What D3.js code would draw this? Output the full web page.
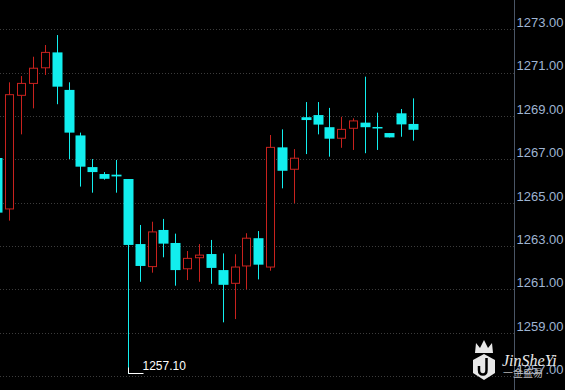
<!DOCTYPE html>
<html>
<head>
<meta charset="utf-8">
<script src="https://cdn.jsdelivr.net/npm/d3@7"></script>
<style>
  html, body { margin: 0; padding: 0; background: #000; }
  svg { display: block; }
</style>
</head>
<body>
<div id="chart"></div>
<script>
// OHLC per bar
var opens  = [1267.06,1264.71,1269.95,1270.50,1271.22,1271.93,1270.20,1268.10,1266.64,1266.32,1266.29,1266.09,
              1263.09,1262.05,1263.74,1263.14,1261.95,1262.46,1262.63,1261.89,1261.28,1262.08,1263.36,1262.03,
              1267.55,1266.54,1268.94,1269.04,1268.48,1267.97,1268.43,1268.69,1268.49,1268.21,1269.12,1268.63];
var highs  = [1267.30,1270.55,1270.84,1271.73,1272.27,1272.73,1270.55,1268.23,1267.01,1266.41,1266.97,1266.09,
              1263.97,1264.12,1264.25,1263.57,1262.77,1263.09,1263.28,1262.66,1262.62,1263.59,1263.69,1268.12,
              1268.38,1267.47,1269.64,1269.64,1269.37,1268.96,1268.89,1270.81,1269.15,1268.21,1269.32,1269.81];
var lows   = [1264.20,1264.17,1268.15,1269.35,1270.89,1269.54,1267.01,1265.74,1265.46,1266.06,1265.46,1257.10,
              1261.35,1261.77,1262.48,1261.17,1261.43,1261.35,1261.26,1259.48,1259.63,1261.00,1261.46,1261.86,
              1265.66,1264.97,1267.24,1268.15,1267.12,1267.53,1267.43,1267.28,1267.43,1268.01,1268.04,1267.86];
var closes = [1264.54,1269.98,1270.50,1271.20,1271.93,1270.35,1268.23,1266.66,1266.41,1266.10,1266.21,1263.05,
              1262.08,1263.65,1263.11,1261.89,1262.43,1262.58,1261.99,1261.21,1262.03,1263.36,1262.14,1267.55,
              1266.47,1267.05,1268.81,1268.60,1267.95,1268.38,1268.77,1268.48,1268.46,1268.01,1268.61,1268.36];
var yTicks = [1257, 1259, 1261, 1263, 1265, 1267, 1269, 1271, 1273];

var width = 565, height = 390;
var axisX = 514;
var upColor = "#c8221e", downColor = "#12eeee";

var data = opens.map(function(o, i) {
    return {i: i, open: o, high: highs[i], low: lows[i], close: closes[i]};
});

var x = d3.scaleLinear().domain([0, 35]).range([-2.6, 412.5]);
var y = d3.scaleLinear().domain([1257, 1273]).range([376.1, 29.2]);

var svg = d3.select("#chart").append("svg")
    .attr("width", width)
    .attr("height", height)
    .style("background", "#000");

// dotted grid
svg.append("g")
    .selectAll("line")
    .data(yTicks)
    .join("line")
    .attr("x1", 0)
    .attr("x2", axisX)
    .attr("y1", d => Math.round(y(d)) + 0.5)
    .attr("y2", d => Math.round(y(d)) + 0.5)
    .attr("stroke", "#3c3c3c")
    .attr("stroke-dasharray", "1,2");

// right axis
var yAxis = d3.axisRight(y)
    .tickValues(yTicks)
    .tickSize(0)
    .tickPadding(2)
    .tickFormat(d3.format(".2f"));

svg.append("g")
    .attr("transform", `translate(${axisX + 0.5},0)`)
    .call(yAxis)
    .call(g => g.select(".domain").attr("d", `M0,0V${height}`).attr("stroke", "#4a5566"))
    .call(g => g.selectAll(".tick text")
        .attr("fill", "#9fb4d2")
        .attr("dy", "-0.2em")
        .style("font", "13px 'Liberation Sans', Arial, sans-serif"));

// candles
var c = svg.append("g")
    .selectAll("g")
    .data(data)
    .join("g");

c.append("line")
    .attr("x1", d => Math.round(x(d.i)) + 0.5)
    .attr("x2", d => Math.round(x(d.i)) + 0.5)
    .attr("y1", d => y(d.high))
    .attr("y2", d => y(d.low))
    .attr("stroke", d => d.close > d.open ? upColor : downColor);

c.append("rect")
    .attr("x", d => Math.round(x(d.i)) - 4 + (d.close > d.open ? 0.5 : -0.5))
    .attr("width", d => d.close > d.open ? 8 : 10)
    .attr("y", d => y(Math.max(d.open, d.close)))
    .attr("height", d => Math.max(1.5, y(Math.min(d.open, d.close)) - y(Math.max(d.open, d.close))))
    .attr("fill", d => d.close > d.open ? "#000" : downColor)
    .attr("stroke", d => d.close > d.open ? upColor : "none");

// lowest price marker
var lowIdx = d3.minIndex(lows);
var lx = Math.round(x(lowIdx)) + 0.5, ly = Math.round(y(lows[lowIdx])) - 0.5;
svg.append("path")
    .attr("d", `M${lx},${ly - 6}V${ly}H${lx + 15}`)
    .attr("fill", "none")
    .attr("stroke", "#fff");
svg.append("text")
    .attr("x", lx + 14)
    .attr("y", ly - 4)
    .attr("fill", "#fff")
    .style("font", "12px 'Liberation Sans', Arial, sans-serif")
    .text(d3.format(".2f")(lows[lowIdx]));

// watermark
var wm = svg.append("g").attr("fill", "#e8e8e8");
wm.append("path")
    .attr("d", "M475,353 L476,343 L480,348 L484,340 L488,348 L492,343 L493,353 Z");
wm.append("path")
    .attr("d", "M484,354 L495,360 L495,373 L484,380 L473,373 L473,360 Z");
wm.append("path")
    .attr("d", "M486.5,358 V370 Q486.5,374.5 483,374.5 Q479,374.5 479,370 V366")
    .attr("fill", "none")
    .attr("stroke", "#000")
    .attr("stroke-width", 2.5);
wm.append("text")
    .attr("x", 502)
    .attr("y", 366)
    .style("font", "italic 16px 'Liberation Serif', serif")
    .text("JinSheYi");
wm.append("text")
    .attr("x", 503)
    .attr("y", 377)
    .attr("fill", "#bbb")
    .style("font", "10px 'Noto Sans CJK SC', sans-serif")
    .text("一金盛易");
</script>
</body>
</html>
